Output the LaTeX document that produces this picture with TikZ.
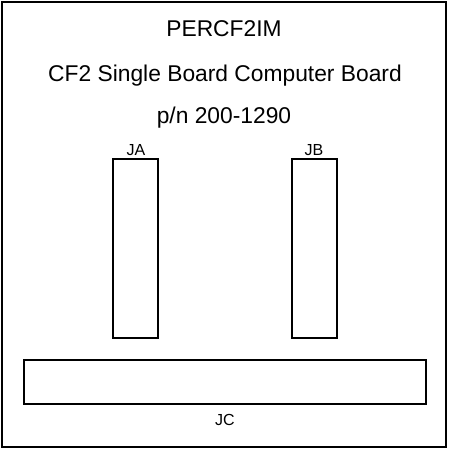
\documentclass[tikz,border=0pt]{standalone}
\usepackage{fontspec}
\setmainfont{Liberation Sans}
\begin{document}
\begin{tikzpicture}[x=1bp,y=-1bp,
  box/.style={draw=black, line width=1.3bp, inner sep=0pt, outer sep=0pt},
  title/.style={font=\fontsize{22.8bp}{25bp}\selectfont, inner sep=0pt, anchor=base},
  lab/.style={font=\fontsize{16bp}{18bp}\selectfont, inner sep=0pt, anchor=base}]
\useasboundingbox (0,0) rectangle (449,449);
\node[box, minimum width=444bp, minimum height=445bp] (board) at (224,224.5) {};
\node[title] (t1) at (224,37) {PERCF2IM};
\node[title] (t2) at (225,82) {CF2 Single Board Computer Board};
\node[title] (t3) at (224,124) {p/n 200-1290};
\node[box, minimum width=45bp, minimum height=179bp] (ja) at (135.5,248.5) {};
\node[box, minimum width=45bp, minimum height=179bp] (jb) at (314.5,248.5) {};
\node[box, minimum width=402bp, minimum height=44bp] (jc) at (225,382) {};
\node[lab] (jal) at (136,156) {JA};
\node[lab] (jbl) at (314,156) {JB};
\node[lab] (jcl) at (225,425) {JC};
\end{tikzpicture}
\end{document}
